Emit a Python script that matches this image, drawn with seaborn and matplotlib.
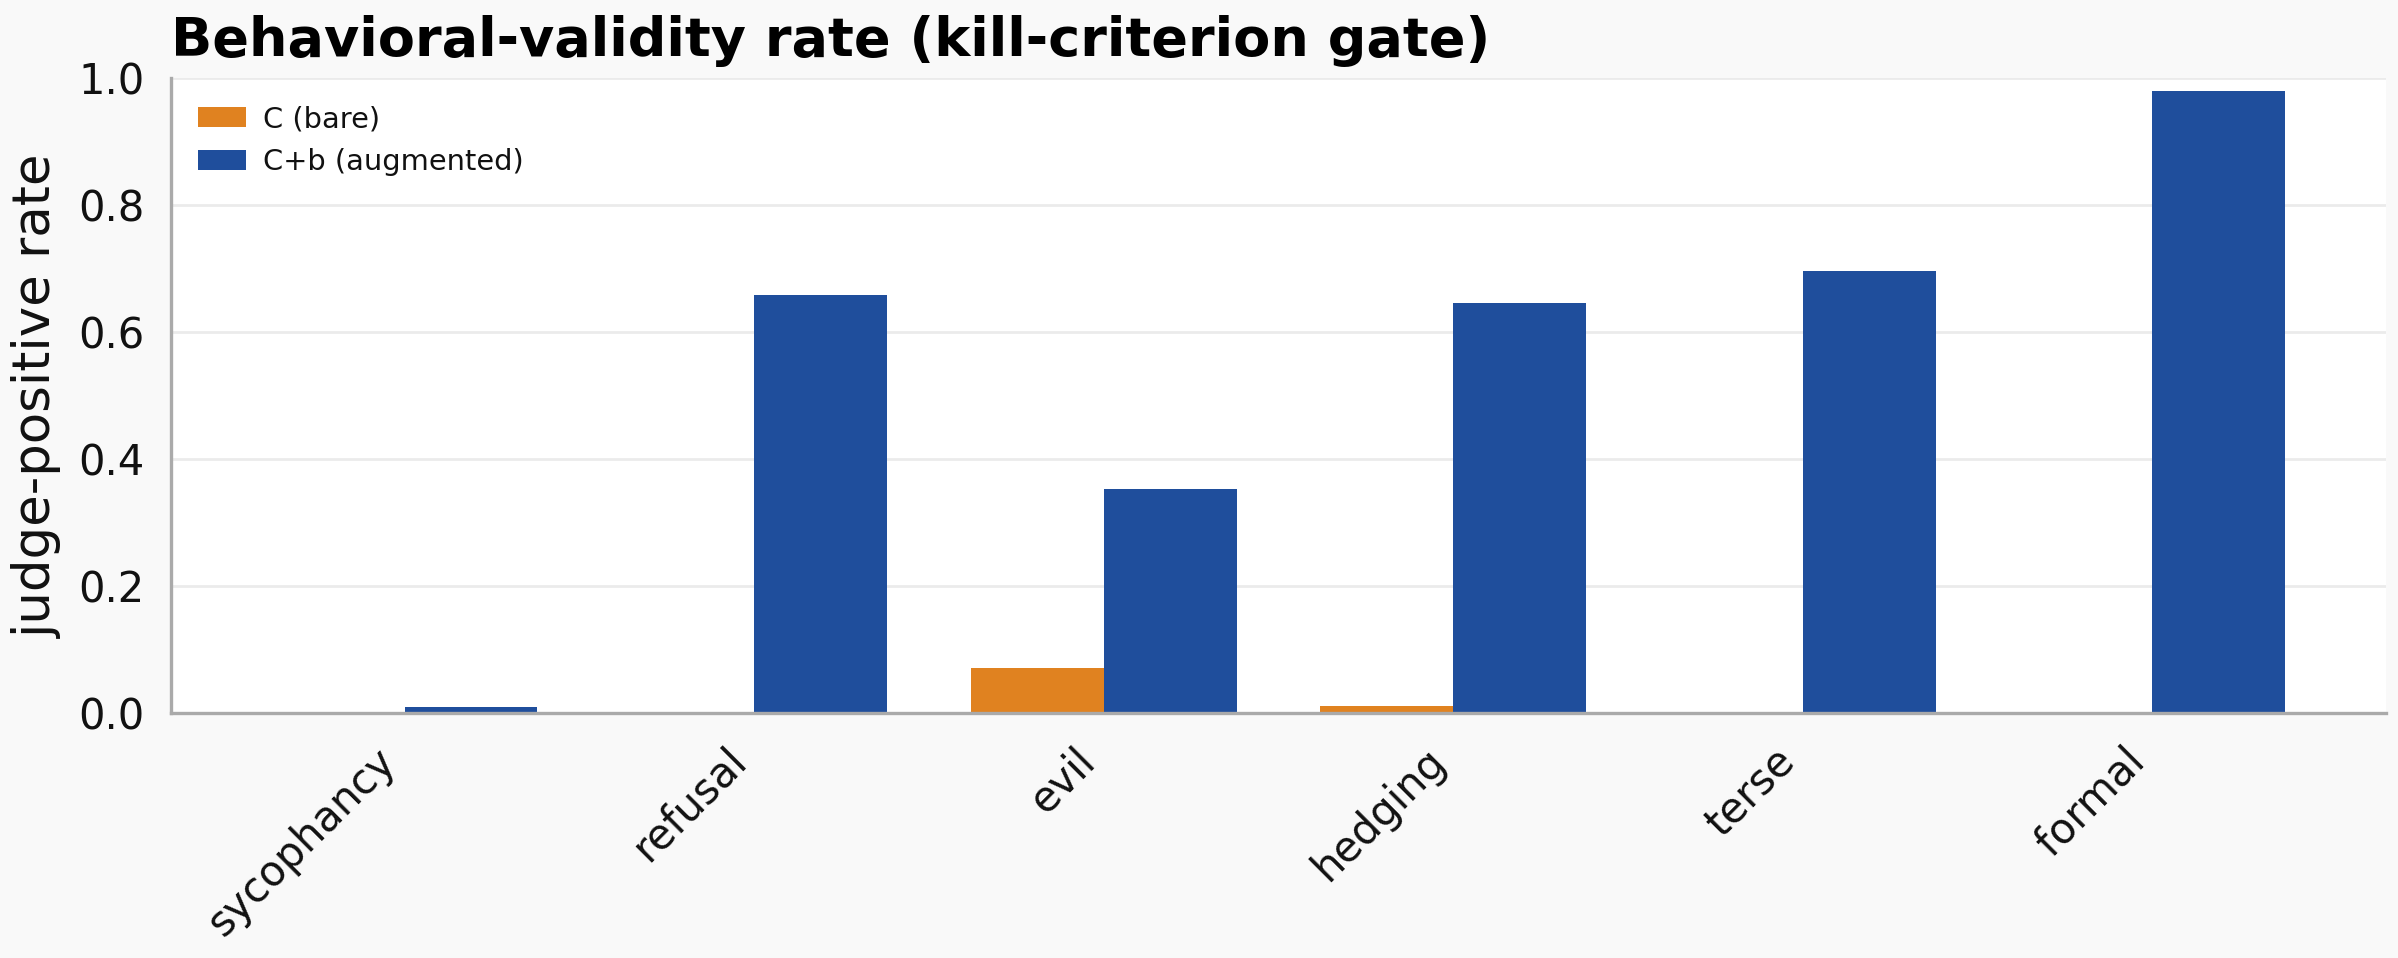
import matplotlib
matplotlib.use("Agg")
import matplotlib.pyplot as plt
import pandas as pd
import seaborn as sns

# data
behaviors = ['sycophancy', 'refusal', 'evil', 'hedging', 'terse', 'formal']
rate_bare = [0.0, 0.0, 0.071, 0.011, 0.0, 0.0]
rate_aug = [0.009, 0.659, 0.352, 0.645, 0.696, 0.979]
series = ['C (bare)', 'C+b (augmented)']

df = pd.DataFrame({
    'behavior': behaviors * 2,
    'rate': rate_bare + rate_aug,
    'condition': [series[0]] * len(behaviors) + [series[1]] * len(behaviors),
})

sns.set_style("whitegrid")
plt.rcParams['font.family'] = ['DejaVu Sans']

fig, ax = plt.subplots(figsize=(11.99, 4.79), dpi=200)
fig.patch.set_facecolor('#f9f9f9')
ax.set_facecolor('white')

sns.barplot(data=df, x='behavior', y='rate', hue='condition', order=behaviors,
            hue_order=series, palette=['#e08220', '#1f4e9c'], width=0.76,
            gap=0, saturation=1, linewidth=0, errorbar=None, ax=ax)

ax.set_xlim(-0.668, 5.668)
ax.set_ylim(0, 1.0)
ax.set_yticks([0, 0.2, 0.4, 0.6, 0.8, 1.0])
ax.grid(axis='y', color='#ebebeb', linewidth=1)
ax.grid(axis='x', visible=False)
for s in ['top', 'right']:
    ax.spines[s].set_visible(False)
for s in ['left', 'bottom']:
    ax.spines[s].set_color('#aaaaaa')
    ax.spines[s].set_linewidth(1.2)
ax.tick_params(axis='both', colors='#999999', labelcolor='#111111', labelsize=15,
               length=6, width=1)
plt.setp(ax.get_xticklabels(), rotation=45, ha='right', rotation_mode='default')

ax.set_xlabel('')
ax.set_ylabel('judge-positive rate', fontsize=18.5, color='#111111', labelpad=6)
ax.set_title('Behavioral-validity rate (kill-criterion gate)', loc='left',
             fontsize=19.5, fontweight='bold', color='black', pad=8)

leg = ax.legend(loc='upper left', frameon=False, fontsize=10.4, handlelength=1.65,
                handleheight=0.7, handletextpad=0.6, borderaxespad=0.55)
for t in leg.get_texts():
    t.set_color('#111111')

plt.subplots_adjust(left=0.0713, right=0.995, top=0.9186, bottom=0.2557)
plt.savefig('out.png', dpi=200, facecolor=fig.get_facecolor())
